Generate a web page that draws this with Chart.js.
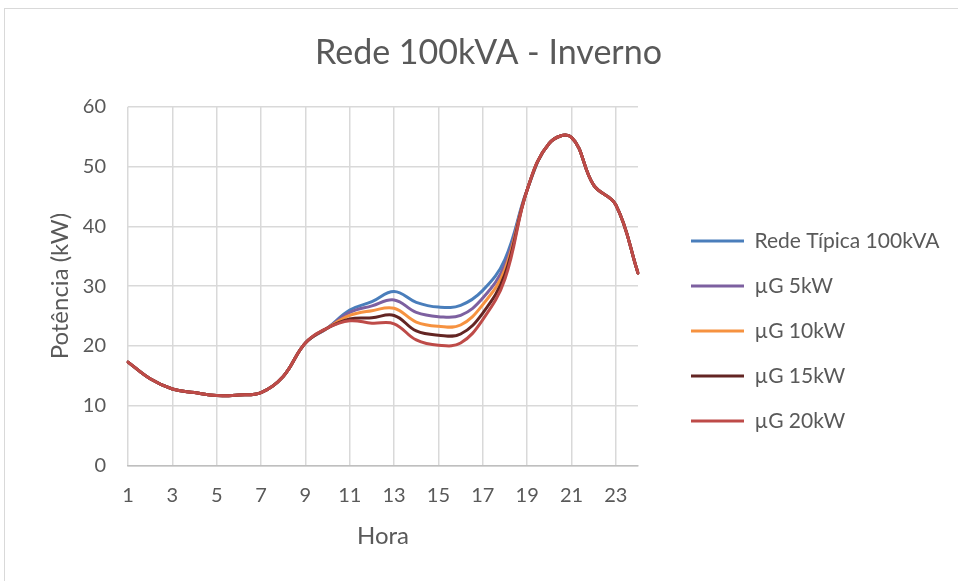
<!DOCTYPE html>
<html>
<head>
<meta charset="utf-8">
<script src="https://cdn.jsdelivr.net/npm/chart.js@4"></script>
<style>
  html, body { margin: 0; padding: 0; background: #ffffff; }
  #wrap { position: relative; width: 958px; height: 581px; overflow: hidden; }
  #frame { position: absolute; left: 4px; top: 8px; width: 970px; height: 600px;
           border-left: 1.5px solid #d9d9d9; border-top: 1.5px solid #d9d9d9; box-sizing: border-box; }
  #c { position: absolute; left: 0; top: 0; }
</style>
</head>
<body>
<div id="wrap">
  <div id="frame"></div>
  <canvas id="c" width="958" height="581"></canvas>
</div>
<script>
// ---- data ----
const chartTitle = 'Rede 100kVA - Inverno';
const xTitle = 'Hora';
const yTitle = 'Potência (kW)';
const hours = [1,2,3,4,5,6,7,8,9,10,11,12,13,14,15,16,17,18,19,20,21,22,23,24];
const xTickLabels = ['1','3','5','7','9','11','13','15','17','19','21','23'];
const seriesNames = ['Rede Típica 100kVA', 'µG 5kW', 'µG 10kW', 'µG 15kW', 'µG 20kW'];
const redeTipica = [17.3,14.5,12.8,12.2,11.7,11.8,12.2,14.9,20.5,23.0,26.0,27.4,29.1,27.3,26.5,26.8,29.3,34.5,46.1,53.9,54.9,46.9,43.6,32.2];
const ug5kW      = [17.3,14.5,12.8,12.2,11.7,11.8,12.2,14.9,20.5,23.0,25.6,26.7,27.7,25.6,24.9,25.1,28.0,33.6,46.1,53.9,54.9,46.9,43.6,32.2];
const ug10kW     = [17.3,14.5,12.8,12.2,11.7,11.8,12.2,14.9,20.5,23.0,25.1,25.9,26.3,24.0,23.3,23.5,26.9,32.8,46.1,53.9,54.9,46.9,43.6,32.2];
const ug15kW     = [17.3,14.5,12.8,12.2,11.7,11.8,12.2,14.9,20.5,23.0,24.5,24.7,25.1,22.5,21.8,22.0,25.5,32.0,46.1,53.9,54.9,46.9,43.6,32.2];
const ug20kW     = [17.3,14.5,12.8,12.2,11.7,11.8,12.2,14.9,20.5,23.0,24.2,23.8,23.7,21.0,20.1,20.5,24.4,31.2,46.1,53.9,54.9,46.9,43.6,32.2];
const seriesValues = [redeTipica, ug5kW, ug10kW, ug15kW, ug20kW];
const seriesColors = ['#4A7EBB', '#7D60A0', '#F69240', '#632523', '#BE4B48'];
const yMin = 0, yMax = 60, yStep = 10;

// ---- style / layout ----
const FONT = 'Lato, "Open Sans", "Liberation Sans", sans-serif';
const TEXT = '#595959';
const GRID = '#d9d9d9';
const LEGEND_X = 691, LEGEND_ROW1 = 241, LEGEND_FS = 21, LEGEND_PAD = 24, LEGEND_W = 320;

const legendPlace = {
  id: 'legendPlace',
  beforeLayout(chart) {
    const lg = chart.legend;
    if (lg && !lg._patched) {
      const orig = lg.fit;
      lg.fit = function () { orig.call(this); this.width = LEGEND_W; };
      lg._patched = true;
    }
  },
  afterLayout(chart) {
    const lg = chart.legend;
    const h = lg.bottom - lg.top;
    lg.left = LEGEND_X - LEGEND_PAD;
    lg.right = lg.left + LEGEND_W;
    lg.top = LEGEND_ROW1 - LEGEND_FS / 2 - LEGEND_PAD;
    lg.bottom = lg.top + h;
  }
};

const datasets = seriesNames.map((name, i) => ({
  label: name,
  data: seriesValues[i],
  borderColor: seriesColors[i],
  backgroundColor: seriesColors[i],
  borderWidth: 3,
  pointRadius: 0,
  pointHoverRadius: 0,
  tension: 0.4,
  fill: false,
  borderCapStyle: 'round',
  borderJoinStyle: 'round',
  order: seriesNames.length - i
}));

new Chart(document.getElementById('c'), {
  type: 'line',
  data: { labels: hours.map(String), datasets },
  plugins: [legendPlace],
  options: {
    responsive: false,
    animation: false,
    devicePixelRatio: 1,
    layout: { padding: { left: 19, right: 0, top: 0, bottom: 0 } },
    plugins: {
      tooltip: { enabled: false },
      title: {
        display: true, text: chartTitle, color: TEXT,
        font: { family: FONT, size: 34, weight: 'normal', lineHeight: 1.2 },
        padding: { top: 33, bottom: 33 }
      },
      legend: {
        display: true, position: 'right', align: 'start',
        labels: {
          color: TEXT, font: { family: FONT, size: LEGEND_FS },
          usePointStyle: true, pointStyle: 'line', pointStyleWidth: 53,
          padding: LEGEND_PAD,
          sort: (a, b) => a.datasetIndex - b.datasetIndex
        }
      }
    },
    scales: {
      x: {
        type: 'category',
        grid: {
          color: (ctx) => (ctx.index % 2 === 0 && ctx.index < hours.length - 1) ? GRID : 'rgba(0,0,0,0)',
          lineWidth: 1.5, drawTicks: false
        },
        border: { display: true, color: '#bfbfbf', width: 1.5 },
        ticks: {
          color: TEXT, font: { family: FONT, size: 20 }, padding: 18,
          autoSkip: false, maxRotation: 0,
          callback: function (value, index) {
            const lbl = String(hours[index]);
            return xTickLabels.includes(lbl) ? lbl : '';
          }
        },
        title: { display: true, text: xTitle, color: TEXT,
                 font: { family: FONT, size: 24 }, padding: { top: 0, bottom: 30 } },
        afterFit: (s) => { s.height = 115.5; }
      },
      y: {
        min: yMin, max: yMax,
        grid: { color: GRID, lineWidth: 1.5, drawTicks: false },
        border: { display: false },
        ticks: { stepSize: yStep, color: TEXT, font: { family: FONT, size: 20 }, padding: 22 },
        title: { display: true, text: yTitle, color: TEXT,
                 font: { family: FONT, size: 24 }, padding: { top: 27, bottom: 0 } },
        afterFit: (s) => { s.width = 109; }
      }
    }
  }
});
</script>
</body>
</html>
